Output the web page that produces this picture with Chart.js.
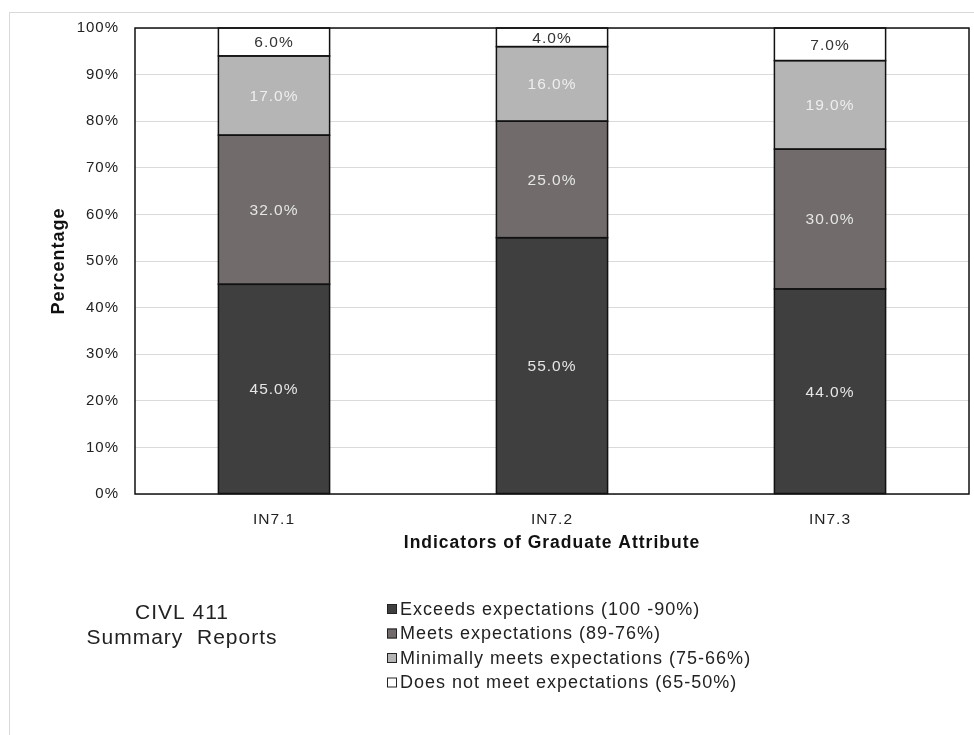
<!DOCTYPE html>
<html>
<head>
<meta charset="utf-8">
<script src="https://cdn.jsdelivr.net/npm/chart.js@4.4.1/dist/chart.umd.min.js"></script>
<style>
  html, body { margin: 0; padding: 0; background: #fff; }
  #wrap { width: 974px; height: 735px; position: relative; }
</style>
</head>
<body>
<div id="wrap"><canvas id="chart" width="974" height="735"></canvas></div>
<script>
// indicator categories
const indicators = ['IN7.1', 'IN7.2', 'IN7.3'];

// share of students per level (%)
const exceeds = [45, 55, 44];
const meets = [32, 25, 30];
const minimally = [17, 16, 19];
const doesNot = [6, 4, 7];

const yTicks = [0, 10, 20, 30, 40, 50, 60, 70, 80, 90, 100];

const legendNames = [
    'Exceeds expectations (100 -90%)',
    'Meets expectations (89-76%)',
    'Minimally meets expectations (75-66%)',
    'Does not meet expectations (65-50%)'
];
const titleLines = ['CIVL 411', 'Summary  Reports'];

const FONT = '"Liberation Sans", Arial, sans-serif';

// loose letter spacing on all canvas text, frame round the whole chart
const framePlugin = {
    id: 'frame',
    beforeInit(chart) {
        chart.ctx.letterSpacing = '1px';
    },
    beforeDraw(chart) {
        const ctx = chart.ctx;
        ctx.letterSpacing = '1px';
        ctx.save();
        ctx.strokeStyle = '#d9d9d9';
        ctx.lineWidth = 1;
        ctx.strokeRect(9.5, 12.5, 980, 740);
        ctx.restore();
    },
    afterDatasetsDraw(chart) {
        const a = chart.chartArea;
        const ctx = chart.ctx;
        ctx.save();
        ctx.strokeStyle = '#111';
        ctx.lineWidth = 1.5;
        // outline of every segment
        chart.data.datasets.forEach((ds, i) => {
            chart.getDatasetMeta(i).data.forEach(bar => {
                ctx.strokeRect(bar.x - bar.width / 2, bar.y, bar.width, bar.base - bar.y);
            });
        });
        ctx.strokeRect(a.left, a.top, a.right - a.left, a.bottom - a.top);
        ctx.restore();
    }
};

// percentage text in the middle of each segment
const valueLabels = {
    id: 'valueLabels',
    afterDatasetsDraw(chart) {
        const ctx = chart.ctx;
        ctx.save();
        ctx.font = '15.5px ' + FONT;
        ctx.textAlign = 'center';
        ctx.textBaseline = 'middle';
        chart.data.datasets.forEach((ds, i) => {
            const meta = chart.getDatasetMeta(i);
            meta.data.forEach((bar, j) => {
                const mid = (bar.y + bar.base) / 2;
                ctx.fillStyle = ds.labelColor;
                ctx.fillText(ds.data[j].toFixed(1) + '%', bar.x, mid + 1);
            });
        });
        ctx.restore();
    }
};

// legend and report title below the axis
const bottomBlock = {
    id: 'bottomBlock',
    afterDraw(chart) {
        const ctx = chart.ctx;
        ctx.save();
        ctx.fillStyle = '#222';
        ctx.textAlign = 'center';
        ctx.textBaseline = 'middle';
        ctx.font = '21px ' + FONT;
        ctx.fillText(titleLines[0], 182, 613);
        ctx.fillText(titleLines[1], 182, 638);

        ctx.textAlign = 'left';
        ctx.font = '18px ' + FONT;
        chart.data.datasets.forEach((ds, i) => {
            const y = 609 + i * 24.5;
            ctx.fillStyle = ds.backgroundColor;
            ctx.fillRect(387, y - 5, 10, 10);
            ctx.strokeStyle = '#222';
            ctx.lineWidth = 1;
            ctx.strokeRect(387.5, y - 4.5, 9, 9);
            ctx.fillStyle = '#222';
            ctx.fillText(legendNames[i], 400, y + 1);
        });
        ctx.restore();
    }
};

function makeSet(label, data, color, labelColor) {
    return {
        label: label,
        data: data,
        backgroundColor: color,
        borderWidth: 0,
        labelColor: labelColor,
        categoryPercentage: 1,
        barPercentage: 0.4
    };
}

new Chart(document.getElementById('chart'), {
    type: 'bar',
    data: {
        labels: indicators,
        datasets: [
            makeSet(legendNames[0], exceeds, '#3f3f3f', '#e6e6e6'),
            makeSet(legendNames[1], meets, '#716b6b', '#e6e6e6'),
            makeSet(legendNames[2], minimally, '#b5b5b5', '#eeeeee'),
            makeSet(legendNames[3], doesNot, '#ffffff', '#333333')
        ]
    },
    options: {
        responsive: false,
        animation: false,
        layout: { padding: { left: 10, right: 5, top: 28, bottom: 181 } },
        plugins: {
            legend: { display: false },
            tooltip: { enabled: false }
        },
        scales: {
            x: {
                stacked: true,
                grid: { display: false, drawTicks: false },
                border: { display: false },
                ticks: { color: '#222', font: { family: FONT, size: 15.5 }, padding: 16 },
                title: {
                    display: true,
                    text: 'Indicators of Graduate Attribute',
                    color: '#111',
                    font: { family: FONT, size: 17.5, weight: 'bold' },
                    padding: { top: 0, bottom: 0 }
                },
                afterFit(scale) { scale.height = 60; }
            },
            y: {
                stacked: true,
                min: 0,
                max: 100,
                afterBuildTicks(scale) { scale.ticks = yTicks.map(v => ({ value: v })); },
                grid: { color: '#dadada', lineWidth: 1, drawTicks: false },
                border: { display: false },
                ticks: {
                    color: '#222',
                    font: { family: FONT, size: 15 },
                    padding: 16,
                    callback: v => v + '%'
                },
                title: {
                    display: true,
                    text: 'Percentage',
                    color: '#111',
                    font: { family: FONT, size: 18, weight: 'bold' },
                    padding: { top: 38, bottom: 0 }
                },
                afterFit(scale) { scale.width = 125; }
            }
        }
    },
    plugins: [framePlugin, valueLabels, bottomBlock]
});
</script>
</body>
</html>
